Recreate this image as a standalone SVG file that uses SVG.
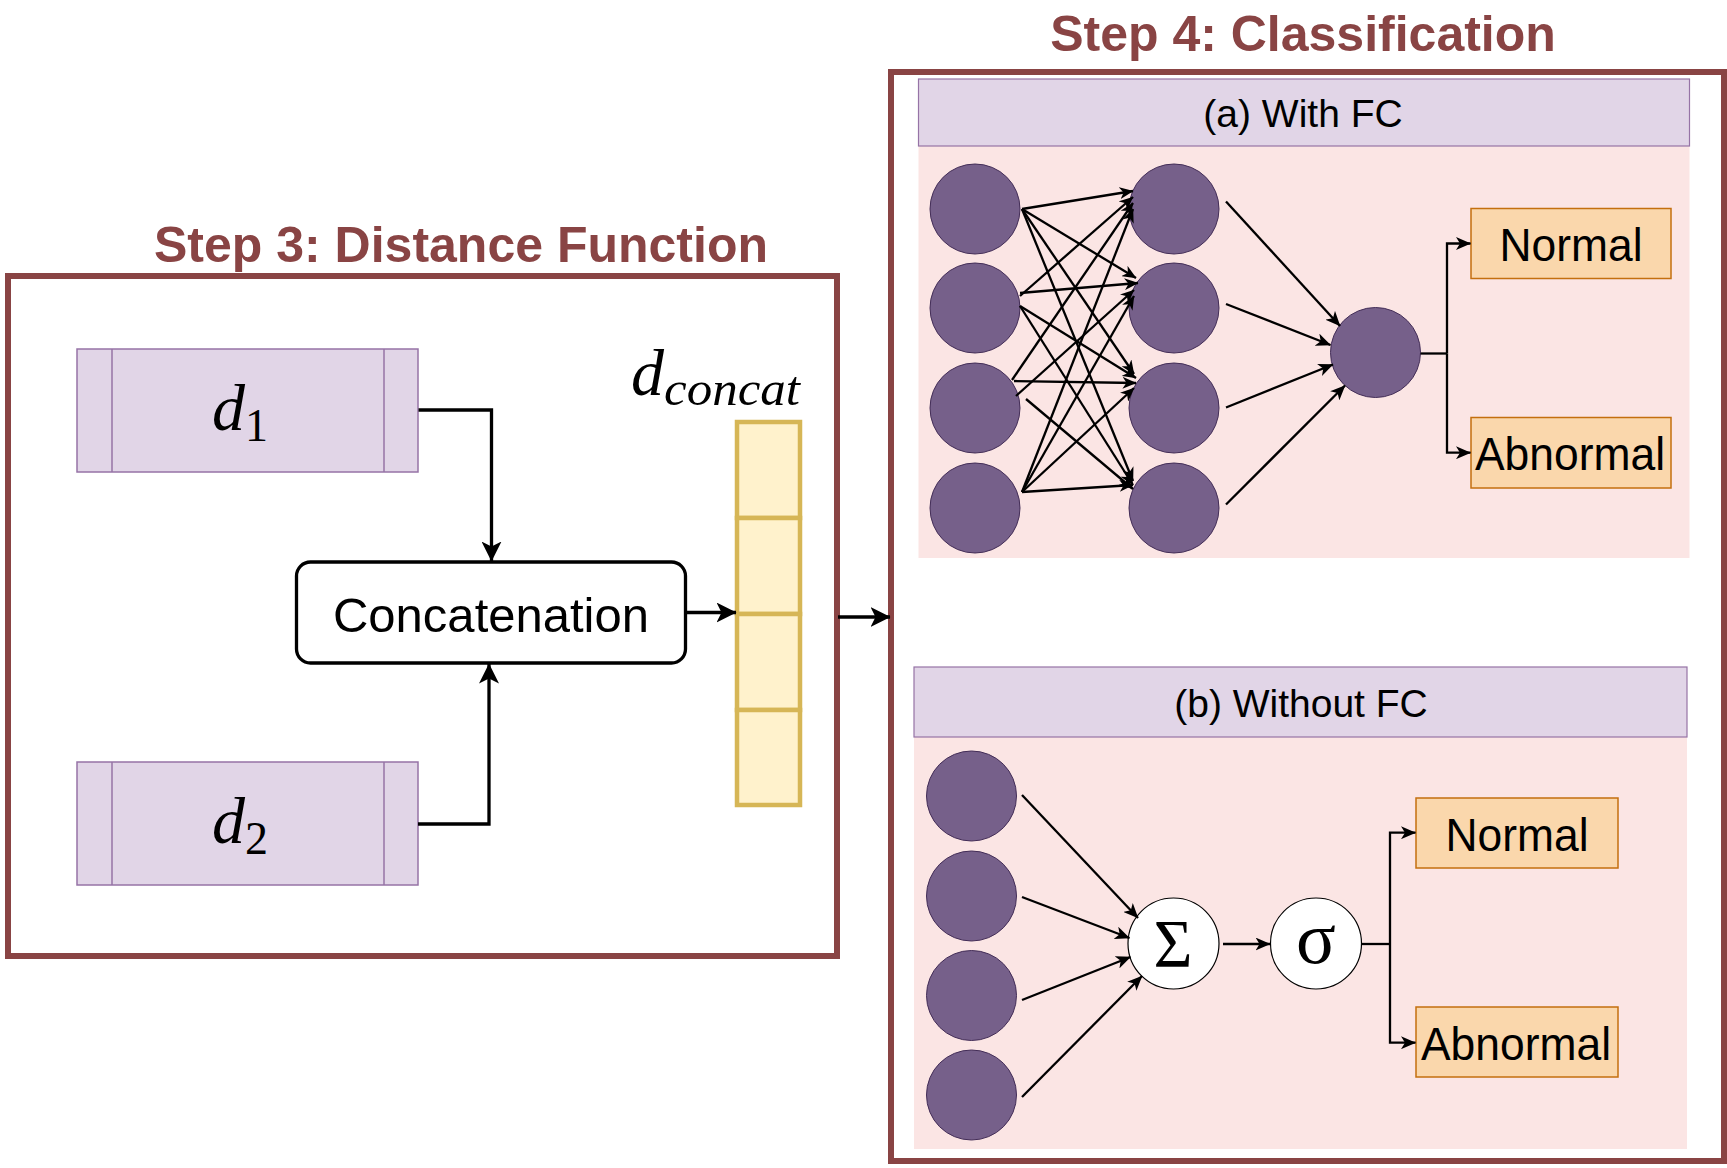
<svg xmlns="http://www.w3.org/2000/svg" width="1727" height="1168" viewBox="0 0 1727 1168">
<defs>
<style>
.title{font-family:"Liberation Sans",Arial,sans-serif;font-weight:bold;font-size:50px;fill:#894444;text-anchor:middle}
.frame{fill:#ffffff;stroke:#894444;stroke-width:6}
.hdr{fill:#E1D5E7;stroke:#9673A6;stroke-width:1.2}
.pink{fill:#FBE5E4;stroke:none}
.lbl{font-family:"Liberation Sans",Arial,sans-serif;fill:#000;text-anchor:middle}
.neu{fill:#76608A;stroke:#432D57;stroke-width:1}
.out{fill:#FAD7AC;stroke:#C46F0E;stroke-width:1.5}
.dbox{fill:#E1D5E7;stroke:#9673A6;stroke-width:1.5}
.vec{fill:#FFF2CC;stroke:#D6B656;stroke-width:4.5}
.math{font-family:"Liberation Serif","Times New Roman",serif;fill:#000}
.thick{fill:none;stroke:#000;stroke-width:3.3;marker-end:url(#ah3)}
.thin{fill:none;stroke:#000;stroke-width:2.3;marker-end:url(#ah2)}
.net{fill:none;stroke:#000;stroke-width:2.3;marker-end:url(#ah1)}
.plain{fill:none;stroke:#000;stroke-width:2.3}
</style>
<marker id="ah3" viewBox="0 0 20 20" refX="19.5" refY="10" markerWidth="20" markerHeight="20" markerUnits="userSpaceOnUse" orient="auto">
<path d="M0,0 L20,10 L0,20 L5,10 z" fill="#000"/>
</marker>
<marker id="ah2" viewBox="0 0 15 13" refX="14.5" refY="6.5" markerWidth="15" markerHeight="13" markerUnits="userSpaceOnUse" orient="auto">
<path d="M0,0 L15,6.5 L0,13 L4,6.5 z" fill="#000"/>
</marker>
<marker id="ah1" viewBox="0 0 14 12" refX="13.5" refY="6" markerWidth="14" markerHeight="12" markerUnits="userSpaceOnUse" orient="auto">
<path d="M0,0 L14,6 L0,12 L4,6 z" fill="#000"/>
</marker>
</defs>

<rect x="0" y="0" width="1727" height="1168" fill="#ffffff"/>

<!-- Step 3 -->
<g id="step3">
<text class="title" x="461" y="262">Step 3: Distance Function</text>
<rect class="frame" x="8" y="276" width="829" height="680"/>
</g>

<g id="d1">
<rect class="dbox" x="77" y="349" width="341" height="123"/>
<line x1="112" y1="349" x2="112" y2="472" stroke="#9673A6" stroke-width="1.5"/>
<line x1="384" y1="349" x2="384" y2="472" stroke="#9673A6" stroke-width="1.5"/>
<text class="math" x="212" y="430" font-size="66" font-style="italic">d<tspan font-style="normal" font-size="46" dy="11">1</tspan></text>
</g>

<g id="d2">
<rect class="dbox" x="77" y="762" width="341" height="123"/>
<line x1="112" y1="762" x2="112" y2="885" stroke="#9673A6" stroke-width="1.5"/>
<line x1="384" y1="762" x2="384" y2="885" stroke="#9673A6" stroke-width="1.5"/>
<text class="math" x="212" y="843" font-size="66" font-style="italic">d<tspan font-style="normal" font-size="46" dy="11">2</tspan></text>
</g>

<g id="concat">
<rect x="296.5" y="562" width="389" height="101" rx="14" ry="14" fill="#ffffff" stroke="#000" stroke-width="3.3"/>
<text class="lbl" x="491" y="631.5" font-size="49">Concatenation</text>
</g>

<g id="dconcat">
<text class="math" x="631" y="395" font-size="66" font-style="italic">d<tspan font-size="48" dy="10" textLength="136" lengthAdjust="spacingAndGlyphs">concat</tspan></text>
<rect class="vec" x="737" y="422" width="63" height="96"/>
<rect class="vec" x="737" y="518" width="63" height="96"/>
<rect class="vec" x="737" y="614" width="63" height="96"/>
<rect class="vec" x="737" y="710" width="63" height="95"/>
</g>

<!-- Step 4 -->
<g id="step4">
<text class="title" x="1303" y="51">Step 4: Classification</text>
<rect class="frame" x="891" y="72" width="833" height="1089"/>
</g>

<g id="panelA">
<rect class="pink" x="918.5" y="146" width="771" height="412"/>
<rect class="hdr" x="918.5" y="79" width="771" height="67"/>
<text class="lbl" x="1303" y="127" font-size="39">(a) With FC</text>
</g>

<g id="panelB">
<rect class="pink" x="914" y="737" width="773" height="412"/>
<rect class="hdr" x="914" y="667" width="773" height="70"/>
<text class="lbl" x="1301" y="717" font-size="39">(b) Without FC</text>
</g>

<g id="netA-input">
<circle class="neu" cx="975" cy="209" r="45"/>
<circle class="neu" cx="975" cy="308" r="45"/>
<circle class="neu" cx="975" cy="408" r="45"/>
<circle class="neu" cx="975" cy="508" r="45"/>
</g>
<g id="netA-hidden">
<circle class="neu" cx="1174" cy="209" r="45"/>
<circle class="neu" cx="1174" cy="308" r="45"/>
<circle class="neu" cx="1174" cy="408" r="45"/>
<circle class="neu" cx="1174" cy="508" r="45"/>
</g>
<g id="netA-output">
<circle class="neu" cx="1375.5" cy="352.5" r="45"/>
</g>
<g id="normalA">
<rect class="out" x="1471" y="208.5" width="200" height="70"/>
<text class="lbl" x="1571" y="261" font-size="47" textLength="143" lengthAdjust="spacingAndGlyphs">Normal</text>
</g>
<g id="abnormalA">
<rect class="out" x="1471" y="417.5" width="200" height="70.5"/>
<text class="lbl" x="1570" y="469.5" font-size="46.5" textLength="190" lengthAdjust="spacingAndGlyphs">Abnormal</text>
</g>

<g id="netB-input">
<circle class="neu" cx="971.5" cy="796" r="45"/>
<circle class="neu" cx="971.5" cy="896" r="45"/>
<circle class="neu" cx="971.5" cy="995.5" r="45"/>
<circle class="neu" cx="971.5" cy="1095" r="45"/>
</g>
<g id="sum">
<ellipse cx="1173.5" cy="943.5" rx="45.5" ry="45.5" fill="#ffffff" stroke="#000" stroke-width="1.2"/>
<text class="math" x="1173" y="965.5" font-size="67" text-anchor="middle">Σ</text>
</g>
<g id="sigmoid">
<ellipse cx="1316" cy="943.5" rx="45.5" ry="45.5" fill="#ffffff" stroke="#000" stroke-width="1.2"/>
<text class="math" x="1316" y="963" font-size="74" text-anchor="middle">σ</text>
</g>
<g id="normalB">
<rect class="out" x="1416" y="798" width="202" height="70"/>
<text class="lbl" x="1517" y="850.5" font-size="47" textLength="143" lengthAdjust="spacingAndGlyphs">Normal</text>
</g>
<g id="abnormalB">
<rect class="out" x="1416" y="1007" width="202" height="70"/>
<text class="lbl" x="1516" y="1059.5" font-size="46.5" textLength="190" lengthAdjust="spacingAndGlyphs">Abnormal</text>
</g>

<g id="connectors">
<!-- Step 3 -->
<polyline class="thick" points="418.5,410 491.5,410 491.5,561"/>
<polyline class="thick" points="418,824 489,824 489,664"/>
<line class="thick" x1="686" y1="612.5" x2="736" y2="612.5"/>
<line class="thick" x1="838" y1="617" x2="890" y2="617"/>
<!-- (a) input to hidden -->
<line class="net" x1="1022" y1="209" x2="1133" y2="191"/>
<line class="net" x1="1022" y1="209" x2="1136" y2="278"/>
<line class="net" x1="1022" y1="209" x2="1134" y2="374"/>
<line class="net" x1="1022" y1="209" x2="1133" y2="481"/>
<line class="net" x1="1020" y1="296" x2="1133" y2="197"/>
<line class="net" x1="1020" y1="293" x2="1138" y2="283"/>
<line class="net" x1="1020" y1="306" x2="1136" y2="378"/>
<line class="net" x1="1020" y1="306" x2="1133" y2="485"/>
<line class="net" x1="1012" y1="380" x2="1133" y2="203"/>
<line class="net" x1="1016" y1="396" x2="1134" y2="290"/>
<line class="net" x1="1014" y1="381" x2="1136" y2="383"/>
<line class="net" x1="1026" y1="399" x2="1133" y2="489"/>
<line class="net" x1="1022" y1="492" x2="1133" y2="209"/>
<line class="net" x1="1022" y1="492" x2="1134" y2="296"/>
<line class="net" x1="1022" y1="492" x2="1134" y2="388"/>
<line class="net" x1="1022" y1="492" x2="1133" y2="485"/>
<!-- (a) hidden to output -->
<line class="thin" x1="1226" y1="201.5" x2="1340" y2="326"/>
<line class="thin" x1="1226" y1="304" x2="1330.5" y2="345"/>
<line class="thin" x1="1226" y1="407.5" x2="1333" y2="364.5"/>
<line class="thin" x1="1226" y1="504.5" x2="1345" y2="385.5"/>
<!-- (a) output branch -->
<polyline class="plain" points="1420.5,353.5 1447,353.5"/>
<polyline class="thin" points="1447,353.5 1447,243.5 1470.5,243.5"/>
<polyline class="thin" points="1447,353.5 1447,452.7 1470.5,452.7"/>
<!-- (b) input to sum -->
<line class="thin" x1="1022" y1="795" x2="1138" y2="918"/>
<line class="thin" x1="1022" y1="897" x2="1129.5" y2="938"/>
<line class="thin" x1="1022" y1="1000" x2="1130.5" y2="957"/>
<line class="thin" x1="1022" y1="1097" x2="1142" y2="976"/>
<!-- (b) sum to sigma -->
<line class="thin" x1="1223" y1="944" x2="1270" y2="944"/>
<!-- (b) sigma branch -->
<polyline class="plain" points="1361.5,944 1390,944"/>
<polyline class="thin" points="1390,944 1390,832.7 1415.5,832.7"/>
<polyline class="thin" points="1390,944 1390,1042.7 1415.5,1042.7"/>
</g>
</svg>
